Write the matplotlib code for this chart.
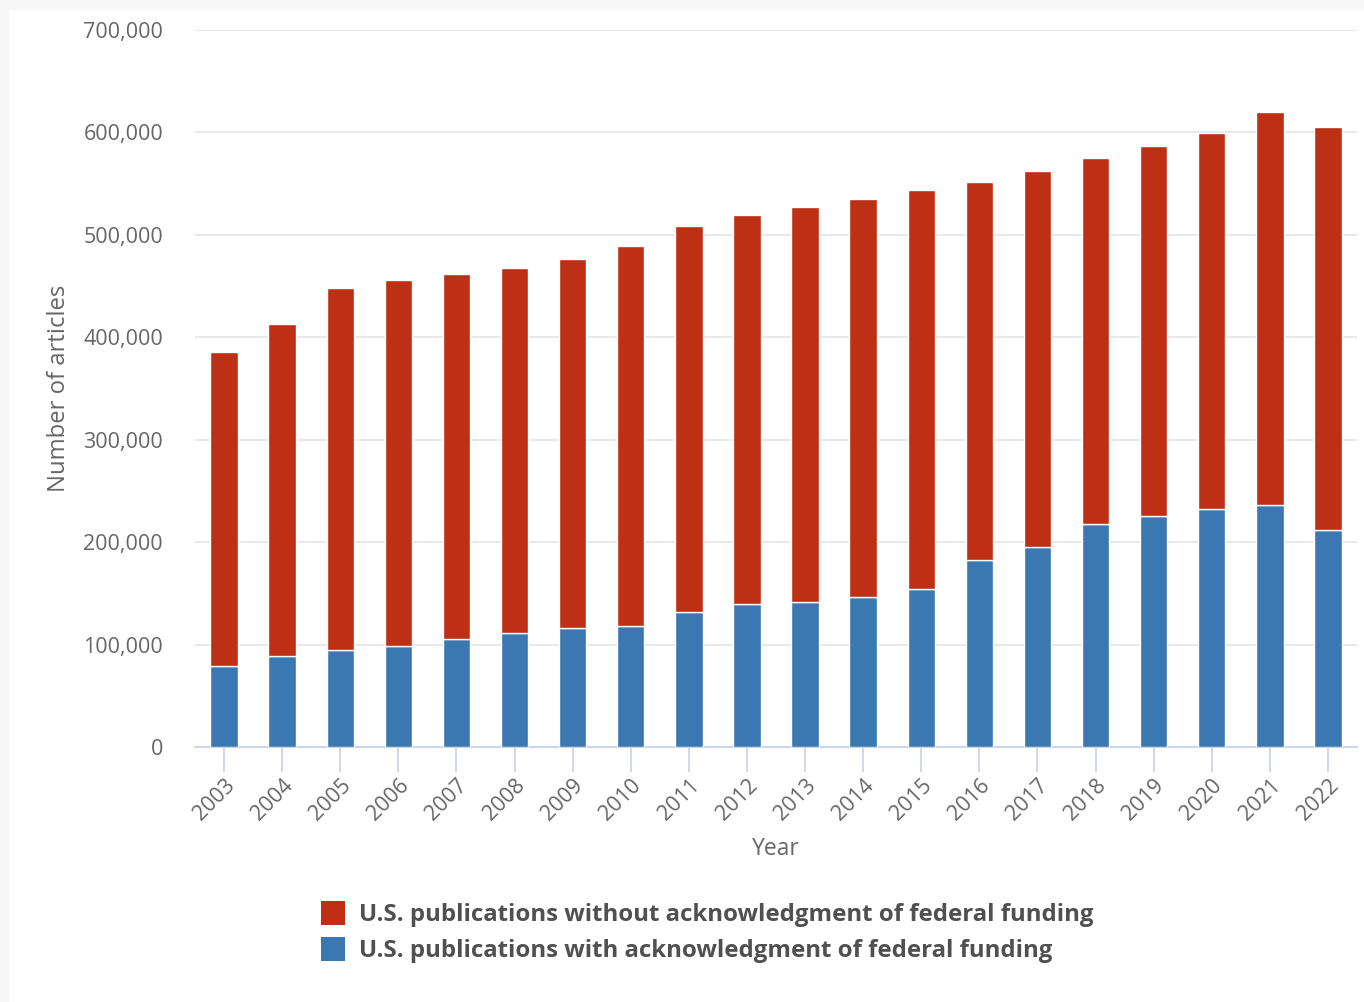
import matplotlib.pyplot as plt
from matplotlib.patches import Rectangle
from matplotlib.ticker import FuncFormatter

years = [str(y) for y in range(2003, 2023)]
with_funding = [79000, 89000, 95000, 99000, 105000, 111000, 116000, 118000,
                132000, 140000, 142000, 146000, 154000, 183000, 195000,
                218000, 226000, 232000, 236000, 212000]
totals = [386000, 413000, 448000, 456000, 462000, 468000, 476000, 489000,
          509000, 519000, 527000, 535000, 544000, 552000, 562000,
          575000, 587000, 599000, 620000, 605000]
without_funding = [t - w for t, w in zip(totals, with_funding)]

RED = "#bd3016"
BLUE = "#3b77b0"
TXT = "#666666"

plt.rcParams['font.family'] = ['Open Sans', 'DejaVu Sans']

fig = plt.figure(figsize=(13.64, 10.02), dpi=100)
fig.patch.set_facecolor("#f7f7f7")
fig.patches.append(Rectangle((9 / 1364, 0), 1, 1 - 10 / 1002,
                             transform=fig.transFigure, facecolor="white",
                             edgecolor="none", zorder=-1))

ax = fig.add_axes([195 / 1364, 1 - 747 / 1002, 1162 / 1364, 717 / 1002])
ax.set_facecolor("white")

x = range(len(years))
ax.bar(x, with_funding, width=0.47, color=BLUE, edgecolor="white",
       linewidth=1, zorder=3)
ax.bar(x, without_funding, width=0.47, bottom=with_funding, color=RED,
       edgecolor="white", linewidth=1, zorder=3)

ax.set_xlim(-0.5, len(years) - 0.5)
ax.set_ylim(0, 700000)
ax.set_yticks(range(0, 700001, 100000))
ax.yaxis.set_major_formatter(FuncFormatter(lambda v, p: f"{int(v):,}"))
ax.grid(axis="y", color="#e6e6e6", linewidth=1.3, zorder=0)

for s in ["top", "right", "left"]:
    ax.spines[s].set_visible(False)
ax.spines["bottom"].set_color("#ccd6eb")
ax.spines["bottom"].set_linewidth(1.5)

ax.set_xticks(list(x))
ax.set_xticklabels(years, rotation=45, ha="right", rotation_mode="anchor")
ax.tick_params(axis="x", colors="#ccd6eb", length=18, width=1.3,
               labelcolor=TXT, labelsize=15.5, pad=2)
ax.tick_params(axis="y", length=0, labelcolor=TXT, labelsize=15.5, pad=23)

ax.set_xlabel("Year", fontsize=16.5, color=TXT, labelpad=9)
ax.set_ylabel("Number of articles", fontsize=17.2, color=TXT, labelpad=9)

# legend
fig.patches.append(Rectangle((321 / 1364, 1 - 925 / 1002), 24 / 1364, 24 / 1002,
                             transform=fig.transFigure, facecolor=RED,
                             edgecolor="none"))
fig.patches.append(Rectangle((321 / 1364, 1 - 961 / 1002), 24 / 1364, 24 / 1002,
                             transform=fig.transFigure, facecolor=BLUE,
                             edgecolor="none"))
fig.text(359 / 1364, 1 - 915 / 1002,
         "U.S. publications without acknowledgment of federal funding",
         fontsize=17.3, fontweight="bold", color="#505050", va="center")
fig.text(359 / 1364, 1 - 951 / 1002,
         "U.S. publications with acknowledgment of federal funding",
         fontsize=17.3, fontweight="bold", color="#505050", va="center")

fig.savefig("out.png", dpi=100, facecolor=fig.get_facecolor())
